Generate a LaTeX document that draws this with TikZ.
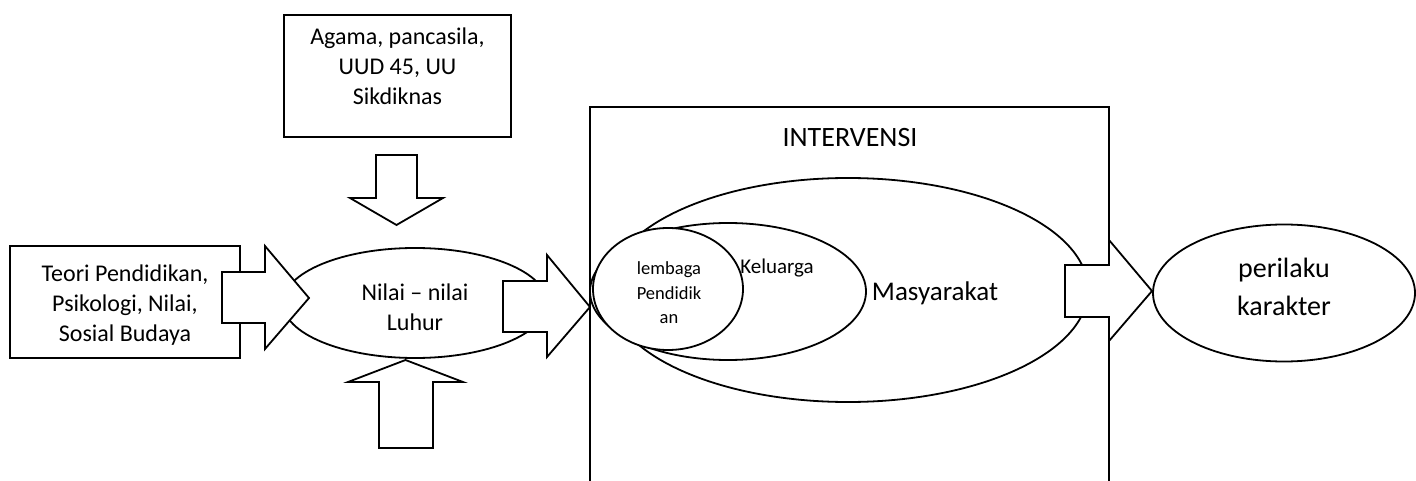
\documentclass[tikz,border=0pt]{standalone}
\usepackage{fontspec}
\setmainfont{Carlito}
\usetikzlibrary{shapes.geometric}
\tikzset{
    kotak/.style={draw, fill=white, inner sep=0pt}, % plain boxes
    oval/.style={ellipse, draw, fill=white, inner sep=0pt}, % ellipses
    panah/.style={draw, fill=white, line join=miter}, % block arrows
    teks/.style={align=center, inner sep=0pt, font=\fontsize{24}{30}\selectfont},
}

\begin{document}
\begin{tikzpicture}[x=1pt, y=-1pt, line width=1.8pt]
\useasboundingbox (0,0) rectangle (1416,481);
% sumber nilai
\node[kotak, minimum width=227pt, minimum height=122pt] (agama) at (397.5,76) {};
\node[teks] (agamateks) at (397.5,66) {Agama, pancasila,\\UUD 45, UU\\Sikdiknas};
\node[kotak, minimum width=230pt, minimum height=112pt] (teori) at (125,302) {};
\node[teks] (teoriteks) at (125,305) {Teori Pendidikan,\\Psikologi, Nilai,\\Sosial Budaya};
\node[oval, minimum width=264pt, minimum height=110pt] (nilai) at (415,303) {};
\node[teks] (nilaiteks) at (415,307) {Nilai – nilai\\Luhur};
% panah ke nilai luhur
\draw[panah] (222,272) -- (265,272) -- (265,246) -- (309,298) -- (265,349) -- (265,323) -- (222,323) -- cycle;
\draw[panah] (376,155) -- (417,155) -- (417,198) -- (443,198) -- (396.5,225) -- (350,198) -- (376,198) -- cycle;
\draw[panah] (379,448) -- (433,448) -- (433,382) -- (463,382) -- (405.5,360) -- (348,382) -- (379,382) -- cycle;
\draw[panah] (503,281) -- (547,281) -- (547,255) -- (590,307) -- (547,357) -- (547,332) -- (503,332) -- cycle;
% intervensi
\draw (590,481) -- (590,107) -- (1109,107) -- (1109,481);
\node[teks, font=\fontsize{28}{34}\selectfont] (intervensi) at (850,138) {INTERVENSI};
\node[oval, minimum width=480pt, minimum height=224pt] (masyarakat) at (848,290) {};
\node[oval, minimum width=276pt, minimum height=137pt] (keluarga) at (728,291.5) {};
\node[oval, minimum width=150pt, minimum height=122pt] (lembaga) at (668,289) {};
\node[teks, font=\fontsize{18.5}{24.5}\selectfont] (lembagateks) at (669,293) {lembaga\\Pendidik\\an};
\node[teks, font=\fontsize{21}{26}\selectfont] (keluargateks) at (777,268) {Keluarga};
\node[teks, font=\fontsize{27}{32}\selectfont] (masyarakatteks) at (935,293) {Masyarakat};
\draw[panah] (1065,265) -- (1109,265) -- (1109,240) -- (1152,291) -- (1109,341) -- (1109,317) -- (1065,317) -- cycle;
% hasil
\node[oval, minimum width=262pt, minimum height=137pt] (perilaku) at (1284,293) {};
\node[teks, font=\fontsize{28}{38}\selectfont] (perilakuteks) at (1284,287) {perilaku\\karakter};
\end{tikzpicture}
\end{document}
